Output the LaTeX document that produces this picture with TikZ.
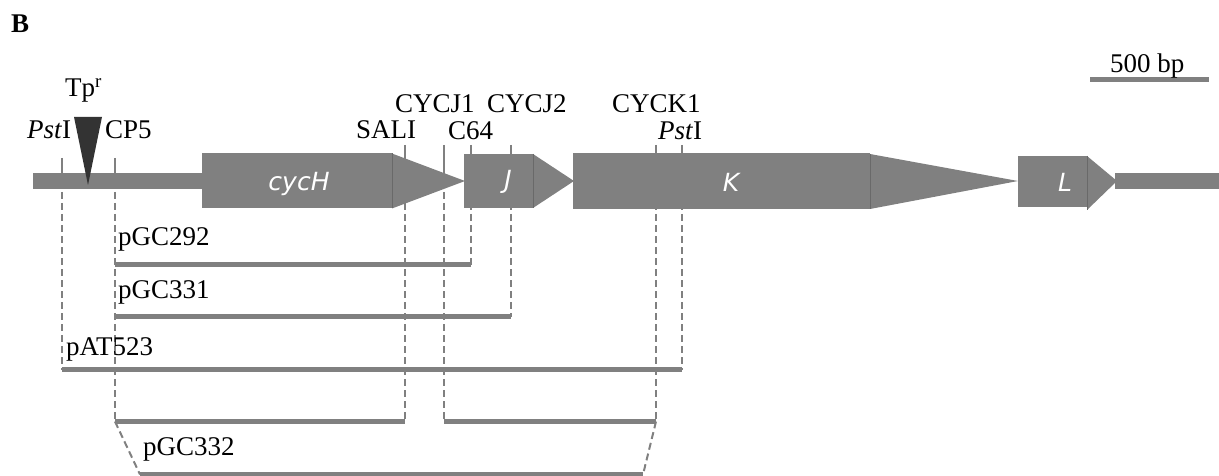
\documentclass[tikz,border=0pt]{standalone}
\usepackage{fontspec}
\setmainfont{Liberation Serif}
\newfontfamily\genefont{DejaVu Sans}
\usepackage{xcolor}
\definecolor{genegray}{RGB}{128,128,128}
\definecolor{edgegray}{RGB}{105,105,105}
\definecolor{tpdark}{RGB}{51,51,51}
\tikzset{
    lab/.style={
        font=\fontsize{27}{30}\selectfont, inner sep=0pt, anchor=base west
    }
}

\begin{document}
\begin{tikzpicture}[x=1pt,y=-1pt, line cap=butt, line join=miter]

\tikzset{
  gene/.style={fill=genegray},
  sep/.style={draw=edgegray, line width=0.8pt},
  tick/.style={draw=genegray, line width=2pt},
  dashln/.style={draw=genegray, line width=2pt, dash pattern=on 7pt off 4pt},
  bar/.style={draw=genegray, line width=5pt},
  glab/.style={font=\genefont\itshape\fontsize{25}{28}\selectfont, text=white, inner sep=0pt},
}

\useasboundingbox (0,0) rectangle (1219,476);

% levels
\coordinate (tickTop) at (0,145);
\coordinate (bbTick) at (0,158);
\coordinate (mid) at (0,181);
\coordinate (r292) at (0,264.5);
\coordinate (r331) at (0,316.5);
\coordinate (r523) at (0,369.5);
\coordinate (r332a) at (0,421.5);
\coordinate (r332b) at (0,474.5);

% sites
\coordinate (pst1) at (62,0);
\coordinate (cp5) at (115,0);
\coordinate (sal) at (405,0);
\coordinate (j1) at (444,0);
\coordinate (c64) at (471,0);
\coordinate (j2) at (511,0);
\coordinate (k1) at (656,0);
\coordinate (pst2) at (682,0);

% ends of the pGC332 bar
\coordinate (l332) at (140,474.5);
\coordinate (r332) at (643,474.5);

% site ticks (solid above, dashed below)
\foreach \s in {sal,j1,c64,j2,k1,pst2}
  \draw[tick] (\s |- tickTop) -- (\s |- mid);
\foreach \s in {pst1,cp5}
  \draw[tick] (\s |- bbTick) -- (\s |- mid);

\draw[dashln] (pst1 |- mid) -- (pst1 |- r523);
\draw[dashln] (cp5 |- mid) -- (cp5 |- r332a);
\draw[dashln] (sal |- mid) -- (sal |- r332a);
\draw[dashln] (j1 |- mid) -- (j1 |- r332a);
\draw[dashln] (c64 |- mid) -- (c64 |- r292);
\draw[dashln] (j2 |- mid) -- (j2 |- r331);
\draw[dashln] (k1 |- mid) -- (k1 |- r332a);
\draw[dashln] (pst2 |- mid) -- (pst2 |- r523);

% backbone
\fill[gene] (33,173) rectangle (203,189);
\fill[gene] (1115,173) rectangle (1219,189);

% cycH
\fill[gene] (202,153.5) rectangle (392,208.5);
\fill[gene] (392,153.5) -- (465,181) -- (392,208.5) -- cycle;
\draw[sep] (392,153.5) -- (392,208.5);

% J
\fill[gene] (464,154) rectangle (533,208);
\fill[gene] (533,154) -- (574,181) -- (533,208) -- cycle;
\draw[sep] (533,154) -- (533,208);

% K
\fill[gene] (573,153.5) rectangle (870,209.5);
\fill[gene] (870,154) -- (1018,181) -- (870,209) -- cycle;
\draw[sep] (870,154) -- (870,209);

% L
\fill[gene] (1018,156) rectangle (1087,207);
\fill[gene] (1087,156) -- (1117,181) -- (1087,210) -- cycle;
\draw[sep] (1087,156) -- (1087,210);

% gene names
\node[glab] (nH) at (299,183.5) {cycH};
\node[glab] (nJ) at (508,182) {J};
\node[glab] (nK) at (731,182) {K};
\node[glab] (nL) at (1065,182) {L};

% Tp^r insertion
\fill[tpdark] (74,117) -- (102,117) -- (88,185) -- cycle;
\node[lab] (tp) at (65,97) {Tp\textsuperscript{r}};

% site labels
\node[lab] (lpst1) at (27,139) {\textit{Pst}I};
\node[lab] (lcp5) at (105,139) {CP5};
\node[lab] (lsal) at (356,139) {SALI};
\node[lab] (lj1) at (395,113) {CYCJ1};
\node[lab] (lc64) at (448,140) {C64};
\node[lab] (lj2) at (487,113) {CYCJ2};
\node[lab] (lk1) at (612,113) {CYCK1};
\node[lab] (lpst2) at (658,140) {\textit{Pst}I};

% subclones
\draw[bar] (cp5 |- r292) -- (c64 |- r292);
\draw[bar] (cp5 |- r331) -- (j2 |- r331);
\draw[bar] (pst1 |- r523) -- (pst2 |- r523);
\draw[bar] (cp5 |- r332a) -- (sal |- r332a);
\draw[bar] (j1 |- r332a) -- (k1 |- r332a);
\draw[dashln] (cp5 |- r332a) -- (l332);
\draw[dashln] (k1 |- r332a) -- (r332);
\draw[bar] (l332) -- (r332);

\node[lab] (p292) at (118,245) {pGC292};
\node[lab] (p331) at (118,298) {pGC331};
\node[lab] (p523) at (66,355) {pAT523};
\node[lab] (p332) at (143,455) {pGC332};

% scale bar
\coordinate (sb1) at (1090,79.5);
\coordinate (sb2) at (1209,79.5);
\draw[bar] (sb1) -- (sb2);
\node[lab] (sbl) at (1110,73) {500 bp};

\node[lab, font=\bfseries\fontsize{27}{30}\selectfont] (panel) at (11,33) {B};

\end{tikzpicture}
\end{document}
